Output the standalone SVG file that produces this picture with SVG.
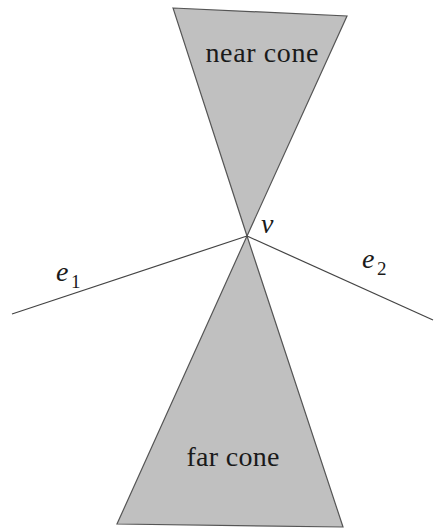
<svg xmlns="http://www.w3.org/2000/svg" width="434" height="529" viewBox="0 0 434 529">
<style>
.cone{fill:#c0c0c0;stroke:#555;stroke-width:1.2;stroke-linejoin:miter}
.edge{fill:none;stroke:#444;stroke-width:1.2}
text{font-family:"Liberation Serif","Times New Roman",serif;fill:#1a1a1a}
.lbl{font-size:28px}
.math{font-size:28px;font-style:italic}
.sub{font-size:19px;font-style:normal}
</style>
<rect width="434" height="529" fill="#fff"/>
<g id="near-cone">
<polygon class="cone" points="173,8 347,16 247,236"/>
<text class="lbl" x="262" y="62" text-anchor="middle" textLength="113">near cone</text>
</g>
<g id="far-cone">
<polygon class="cone" points="247,236 117,524 343,527"/>
<text class="lbl" x="233" y="466" text-anchor="middle" textLength="93">far cone</text>
</g>
<g id="connectors">
<line class="edge" x1="12" y1="314" x2="247" y2="236"/>
<line class="edge" x1="247" y1="236" x2="433" y2="320"/>
</g>
<g id="v">
<text class="math" x="261" y="233">v</text>
</g>
<g id="e1">
<text class="math" x="56" y="281">e</text>
<text class="sub" x="71" y="288">1</text>
</g>
<g id="e2">
<text class="math" x="362" y="268">e</text>
<text class="sub" x="377" y="275">2</text>
</g>
</svg>
